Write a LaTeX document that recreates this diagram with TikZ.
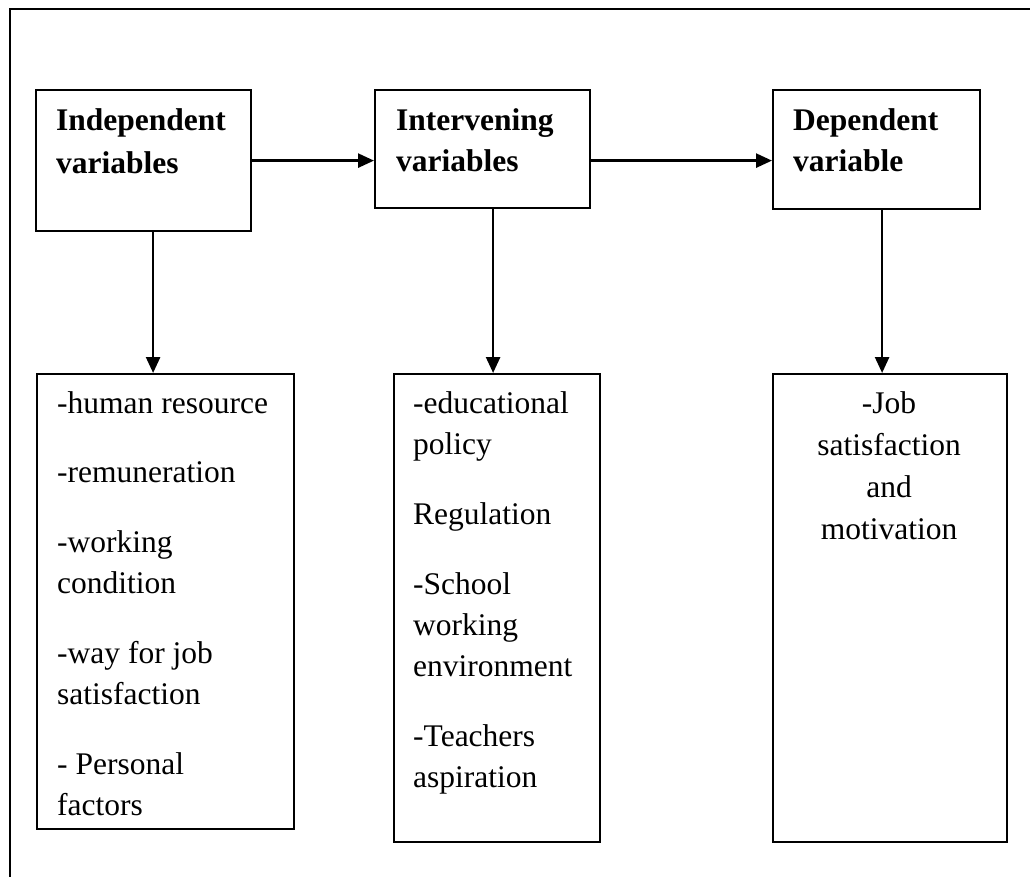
\documentclass[tikz,border=0pt]{standalone}
\usepackage{fontspec}
\setmainfont{Liberation Serif}
\usetikzlibrary{arrows.meta}
\begin{document}
\begin{tikzpicture}[x=1pt,y=-1pt,
  box/.style={draw,line width=2.2pt,rectangle,inner sep=0pt,anchor=north west},
  conn/.style={line width=2.6pt,-{Triangle[length=16pt,width=14pt]}},
  frameline/.style={line width=2.2pt},
  txt/.style={anchor=base west,inner sep=0pt,font=\fontsize{31.5}{40}\selectfont},
  ctxt/.style={anchor=base,inner sep=0pt,font=\fontsize{31.5}{40}\selectfont},
  head/.style={anchor=base west,inner sep=0pt,font=\fontsize{31.5}{40}\selectfont\bfseries}]
\useasboundingbox (0,0) rectangle (1030,876);
% outer frame (only top and left edges visible)
\coordinate (ftl) at (10,9);
\coordinate (ftr) at (1031,9);
\coordinate (fbl) at (10,877);
\draw[frameline] (ftr) -- (ftl) -- (fbl);
% top boxes
\node[box,minimum width=215pt,minimum height=141pt] (B1) at (35,89) {};
\node[box,minimum width=215pt,minimum height=118pt] (B2) at (374,89) {};
\node[box,minimum width=207pt,minimum height=119pt] (B3) at (772,89) {};
% lower boxes
\node[box,minimum width=257pt,minimum height=455pt] (L1) at (36,373) {};
\node[box,minimum width=206pt,minimum height=468pt] (L2) at (393,373) {};
\node[box,minimum width=234pt,minimum height=468pt] (L3) at (772,373) {};
% headings
\node[head] (h1a) at (56,130) {Independent};
\node[head] (h1b) at (56,173) {variables};
\node[head] (h2a) at (396,130) {Intervening};
\node[head] (h2b) at (396,171) {variables};
\node[head] (h3a) at (793,130) {Dependent};
\node[head] (h3b) at (793,171) {variable};
% list 1
\node[txt] (a1) at (57,413) {-human resource};
\node[txt] (a2) at (57,482) {-remuneration};
\node[txt] (a3) at (57,552) {-working};
\node[txt] (a4) at (57,593) {condition};
\node[txt] (a5) at (57,663) {-way for job};
\node[txt] (a6) at (57,704) {satisfaction};
\node[txt] (a7) at (57,774) {- Personal};
\node[txt] (a8) at (57,815) {factors};
% list 2
\node[txt] (b1) at (413,413) {-educational};
\node[txt] (b2) at (413,454) {policy};
\node[txt] (b3) at (413,524) {Regulation};
\node[txt] (b4) at (413,594) {-School};
\node[txt] (b5) at (413,635) {working};
\node[txt] (b6) at (413,676) {environment};
\node[txt] (b7) at (413,746) {-Teachers};
\node[txt] (b8) at (413,787) {aspiration};
% list 3
\node[ctxt] (c1) at (889,413) {-Job};
\node[ctxt] (c2) at (889,455) {satisfaction};
\node[ctxt] (c3) at (889,497) {and};
\node[ctxt] (c4) at (889,539) {motivation};
% connectors
\draw[conn] (B1.east) -- (B1.east -| B2.west);
\draw[conn] (B2.east |- B1.east) -- (B3.west |- B1.east);
\draw[conn] ([xshift=9.5pt]B1.south) -- ([xshift=9.5pt]B1.south |- L1.north);
\draw[conn] ([xshift=10.5pt]B2.south) -- ([xshift=10.5pt]B2.south |- L2.north);
\draw[conn] ([xshift=5.5pt]B3.south) -- ([xshift=5.5pt]B3.south |- L3.north);
\end{tikzpicture}
\end{document}
